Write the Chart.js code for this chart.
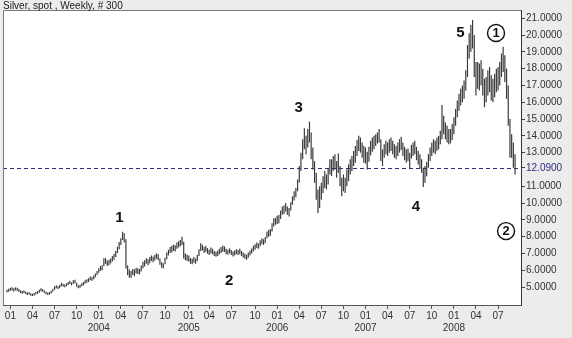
<!DOCTYPE html>
<html>
<head>
<meta charset="utf-8">
<script src="https://cdn.jsdelivr.net/npm/chart.js@4.4.0/dist/chart.umd.min.js"></script>
<style>
  html, body { margin: 0; padding: 0; background: #ececec; }
  canvas { display: block; }
</style>
</head>
<body>
<canvas id="chart" width="572" height="338"></canvas>
<script>
// weekly bars, first one is the week of 20 Dec 2002
var firstWeek = [2002, 11, 20];
var monthTicks = ['01', '04', '07', '10'];
var yearLabels = ['2004', '2005', '2006', '2007', '2008'];
var priceTicks = [5, 6, 7, 8, 9, 10, 11, 12.09, 13, 14, 15, 16, 17, 18, 19, 20, 21];
var markerLevel = 12.09;
var chartTitle = 'Silver, spot , Weekly, # 300';

var weekLow = [
  // Dec 2002 - 2003
  4.68, 4.72, 4.78, 4.80, 4.74, 4.80, 4.78, 4.70, 4.64, 4.60,
  4.64, 4.58, 4.52, 4.55, 4.48, 4.46, 4.49, 4.55, 4.60, 4.66,
  4.75, 4.72, 4.64, 4.57, 4.53, 4.55, 4.62, 4.72, 4.84, 4.92,
  4.88, 4.93, 5.05, 5.02, 4.98, 5.05, 5.12, 5.18, 5.10, 5.20,
  5.22, 5.02, 4.92, 4.96, 5.04, 5.10, 5.20, 5.26, 5.30, 5.40,
  5.38, 5.46, 5.58, 5.72,
  // 2004
  5.85, 5.96, 6.00, 6.25, 6.38, 6.25, 6.30, 6.40, 6.52, 6.62,
  6.78, 7.02, 7.25, 7.50, 7.80, 7.65, 6.10, 5.70, 5.55, 5.55,
  5.72, 5.65, 5.80, 5.78, 5.75, 5.92, 6.12, 6.22, 6.38, 6.30,
  6.42, 6.55, 6.48, 6.58, 6.68, 6.60, 6.32, 6.15, 6.10, 6.35,
  6.65, 6.88, 7.02, 7.05, 7.15, 7.12, 7.28, 7.35, 7.42, 7.50,
  6.70, 6.60, 6.55,
  // 2005
  6.52, 6.38, 6.35, 6.45, 6.38, 6.55, 6.85, 7.15, 7.18, 7.02,
  7.10, 6.98, 6.90, 7.00, 6.95, 6.85, 6.80, 6.85, 6.95, 7.02,
  7.10, 7.08, 6.95, 6.92, 7.00, 6.90, 6.82, 6.88, 6.95, 6.90,
  6.95, 6.85, 6.75, 6.68, 6.62, 6.75, 6.88, 7.00, 7.12, 7.22,
  7.32, 7.28, 7.42, 7.55, 7.50, 7.62, 7.90, 8.00, 8.05, 8.30,
  8.60, 8.70,
  // 2006
  8.75, 8.80, 9.05, 9.30, 9.35, 9.50, 9.30, 9.20, 9.55, 9.90,
  10.15, 10.35, 10.70, 11.20, 11.90, 12.60, 13.20, 12.90, 13.30, 13.60,
  12.60, 12.00, 11.20, 10.20, 9.40, 9.70, 10.20, 10.60, 10.90, 10.80,
  11.10, 11.70, 11.60, 11.90, 12.00, 11.50, 11.80, 11.00, 10.40, 10.70,
  10.60, 11.00, 11.30, 11.70, 11.90, 12.20, 12.40, 12.80, 13.10, 13.00,
  12.70, 12.40,
  // 2007
  12.35, 12.00, 12.45, 12.85, 13.05, 13.20, 13.40, 13.55, 13.60, 12.50,
  12.20, 12.70, 12.90, 12.80, 13.00, 13.10, 12.90, 12.70, 12.60, 12.80,
  13.00, 13.15, 12.80, 12.55, 12.40, 12.50, 12.05, 12.65, 12.80, 12.90,
  12.55, 12.30, 12.05, 11.80, 10.95, 11.20, 11.60, 12.10, 12.50, 12.80,
  13.00, 12.90, 13.10, 13.20, 13.50, 13.80, 14.10, 13.80, 13.60, 13.50,
  13.55, 13.75,
  // 2008
  14.10, 14.60, 15.10, 15.50, 15.80, 16.00, 16.20, 16.70, 17.50, 18.60,
  19.00, 19.20, 17.50, 16.40, 16.80, 16.70, 17.00, 16.40, 15.70, 16.00,
  16.40, 16.60, 16.10, 16.00, 16.30, 16.60, 16.70, 17.00, 17.50, 17.80,
  17.20, 16.20, 14.60, 12.70, 12.70, 12.10, 11.70
];

var weekHigh = [
  // Dec 2002 - 2003
  4.84, 4.90, 4.95, 4.98, 4.92, 4.98, 4.95, 4.88, 4.80, 4.76,
  4.80, 4.74, 4.68, 4.70, 4.63, 4.60, 4.64, 4.70, 4.76, 4.84,
  4.92, 4.88, 4.80, 4.72, 4.67, 4.70, 4.78, 4.90, 5.04, 5.10,
  5.05, 5.12, 5.25, 5.20, 5.15, 5.22, 5.30, 5.38, 5.28, 5.40,
  5.44, 5.26, 5.10, 5.14, 5.22, 5.30, 5.40, 5.46, 5.52, 5.62,
  5.58, 5.68, 5.80, 5.96,
  // 2004
  6.12, 6.25, 6.30, 6.72, 6.72, 6.58, 6.62, 6.70, 6.85, 6.98,
  7.15, 7.40, 7.68, 7.90, 8.29, 8.20, 7.85, 6.30, 6.05, 5.95,
  6.08, 6.05, 6.15, 6.12, 6.08, 6.28, 6.50, 6.60, 6.72, 6.65,
  6.78, 6.88, 6.82, 6.92, 7.00, 6.95, 6.70, 6.48, 6.42, 6.75,
  7.05, 7.22, 7.38, 7.45, 7.52, 7.48, 7.65, 7.72, 7.80, 8.00,
  7.70, 7.00, 6.92,
  // 2005
  6.88, 6.72, 6.68, 6.78, 6.70, 6.92, 7.25, 7.60, 7.52, 7.38,
  7.45, 7.32, 7.22, 7.35, 7.28, 7.15, 7.10, 7.18, 7.28, 7.38,
  7.45, 7.42, 7.28, 7.22, 7.30, 7.20, 7.12, 7.18, 7.25, 7.20,
  7.28, 7.15, 7.05, 6.98, 6.92, 7.05, 7.18, 7.30, 7.45, 7.55,
  7.65, 7.60, 7.78, 7.90, 7.85, 7.98, 8.30, 8.40, 8.45, 8.80,
  9.10, 9.12,
  // 2006
  9.25, 9.30, 9.55, 9.80, 9.85, 10.00, 9.80, 9.70, 10.05, 10.40,
  10.70, 10.90, 11.40, 12.20, 13.00, 13.80, 14.45, 14.00, 14.40, 14.85,
  14.20, 13.30, 12.50, 11.80, 10.80, 11.00, 11.20, 11.60, 11.90, 11.70,
  12.10, 12.60, 12.60, 12.80, 12.90, 12.50, 12.95, 12.20, 11.50, 11.70,
  11.50, 12.00, 12.30, 12.60, 12.80, 13.10, 13.40, 13.75, 14.00, 13.90,
  13.60, 13.40,
  // 2007
  13.30, 13.05, 13.35, 13.70, 13.90, 14.00, 14.10, 14.20, 14.40, 13.80,
  13.20, 13.50, 13.70, 13.60, 13.80, 13.90, 13.70, 13.50, 13.40, 13.60,
  13.80, 13.95, 13.60, 13.35, 13.20, 13.25, 13.00, 13.45, 13.60, 13.70,
  13.35, 13.10, 12.90, 12.60, 12.10, 12.20, 12.45, 12.90, 13.30, 13.60,
  13.80, 13.70, 13.90, 14.00, 14.30, 15.83, 15.20, 14.80, 14.60, 14.40,
  14.40, 14.70,
  // 2008
  15.10, 15.60, 16.10, 16.50, 16.80, 17.00, 17.30, 17.90, 19.40, 20.10,
  20.60, 20.90, 20.00, 18.40, 18.40, 18.30, 18.50, 18.00, 17.40, 17.50,
  17.90, 18.10, 17.60, 17.40, 17.70, 18.00, 18.10, 18.40, 18.90, 19.30,
  18.80, 18.00, 17.00, 15.00, 14.10, 13.60, 12.90
];

// wave counts written on the chart: week index and price where the text sits
var waveLabels = [
  { text: '1', week: 66.2, price: 9.14, circled: false },
  { text: '2', week: 130.7, price: 5.36, circled: false },
  { text: '3', week: 171.6, price: 15.68, circled: false },
  { text: '4', week: 240.7, price: 9.76, circled: false },
  { text: '5', week: 266.8, price: 20.12, circled: false },
  { text: '1', week: 287.8, price: 20.12, circled: true },
  { text: '2', week: 293.7, price: 8.33, circled: true }
];

function weekDate(i) {
  return new Date(firstWeek[0], firstWeek[1], firstWeek[2] + 7 * i);
}

var xTicks = [];
var xTickText = {};
for (var i = 1; i < weekLow.length; i++) {
  var d = weekDate(i);
  var p = weekDate(i - 1);
  if (d.getMonth() !== p.getMonth() && d.getMonth() % 3 === 0) {
    var m = monthTicks[d.getMonth() / 3];
    var yr = String(d.getFullYear());
    xTicks.push(i);
    xTickText[i] = (m === '01' && yearLabels.indexOf(yr) >= 0) ? [m, yr] : m;
  }
}

var bars = weekLow.map(function (lo, i) {
  return { x: i, y: [lo, weekHigh[i]] };
});

var FONT = 'Arial, "Liberation Sans", sans-serif';

var framePlugin = {
  id: 'frame',
  beforeDraw: function (chart) {
    var c = chart.ctx, a = chart.chartArea;
    c.save();
    c.fillStyle = '#ececec';
    c.fillRect(0, 0, chart.width, chart.height);
    c.fillStyle = '#ffffff';
    c.fillRect(a.left, a.top, a.right - a.left, a.bottom - a.top);
    c.restore();
  },
  beforeDatasetsDraw: function (chart) {
    var c = chart.ctx, a = chart.chartArea;
    var y = Math.round(chart.scales.y.getPixelForValue(markerLevel)) + 0.5;
    c.save();
    c.strokeStyle = '#2c2c80';
    c.lineWidth = 1;
    c.setLineDash([4, 3]);
    c.beginPath();
    c.moveTo(a.left, y);
    c.lineTo(a.right, y);
    c.stroke();
    c.restore();
  },
  afterDraw: function (chart) {
    var c = chart.ctx, a = chart.chartArea;
    var xs = chart.scales.x, ys = chart.scales.y;
    c.save();
    // frame
    c.strokeStyle = '#7a7a7a';
    c.lineWidth = 1;
    c.beginPath();
    c.moveTo(a.left + 0.5, a.bottom);
    c.lineTo(a.left + 0.5, a.top + 0.5);
    c.lineTo(a.right, a.top + 0.5);
    c.stroke();
    // title
    c.fillStyle = '#1a1a1a';
    c.font = '10px ' + FONT;
    c.textBaseline = 'alphabetic';
    c.textAlign = 'left';
    c.fillText(chartTitle, 3, 9);
    // wave labels
    c.textAlign = 'center';
    c.textBaseline = 'middle';
    waveLabels.forEach(function (w) {
      var px = xs.getPixelForValue(w.week);
      var py = ys.getPixelForValue(w.price);
      if (w.circled) {
        c.fillStyle = '#ffffff';
        c.strokeStyle = '#111';
        c.lineWidth = 1.4;
        c.beginPath();
        c.arc(px, py, 8.5, 0, Math.PI * 2);
        c.fill();
        c.stroke();
        c.fillStyle = '#111';
        c.font = 'bold 13px ' + FONT;
        c.fillText(w.text, px, py + 0.5);
      } else {
        c.fillStyle = '#111';
        c.font = 'bold 15px ' + FONT;
        c.fillText(w.text, px, py);
      }
    });
    c.restore();
  }
};

var ctx = document.getElementById('chart').getContext('2d');
new Chart(ctx, {
  type: 'bar',
  data: {
    datasets: [{
      data: bars,
      backgroundColor: '#3a3a3a',
      borderWidth: 0,
      barPercentage: 1,
      categoryPercentage: 0.7
    }]
  },
  options: {
    responsive: false,
    animation: false,
    devicePixelRatio: 1,
    layout: { padding: { left: 3, top: 10, right: 0, bottom: 0 } },
    plugins: {
      legend: { display: false },
      tooltip: { enabled: false }
    },
    scales: {
      x: {
        type: 'linear',
        min: -2.35,
        max: 302.5,
        offset: false,
        afterBuildTicks: function (s) {
          s.ticks = xTicks.map(function (v) { return { value: v }; });
        },
        afterFit: function (s) { s.height = 33; },
        grid: { drawOnChartArea: false, offset: false, tickLength: 4, color: '#555' },
        border: { color: '#555' },
        ticks: {
          autoSkip: false,
          maxRotation: 0,
          minRotation: 0,
          padding: 1,
          color: '#333',
          font: { family: FONT, size: 10, lineHeight: 1.2 },
          callback: function (v) { return xTickText[v]; }
        }
      },
      y: {
        position: 'right',
        min: 3.93,
        max: 21.49,
        afterBuildTicks: function (s) {
          s.ticks = priceTicks.map(function (v) { return { value: v }; });
        },
        afterFit: function (s) { s.width = 51; },
        grid: { drawOnChartArea: false, tickLength: 4, color: '#444' },
        border: { color: '#333' },
        ticks: {
          padding: 1,
          font: { family: FONT, size: 10 },
          color: function (c) { return c.tick && c.tick.value === markerLevel ? '#2c2c80' : '#333'; },
          callback: function (v) { return Number(v).toFixed(4); }
        }
      }
    }
  },
  plugins: [framePlugin]
});
</script>
</body>
</html>
